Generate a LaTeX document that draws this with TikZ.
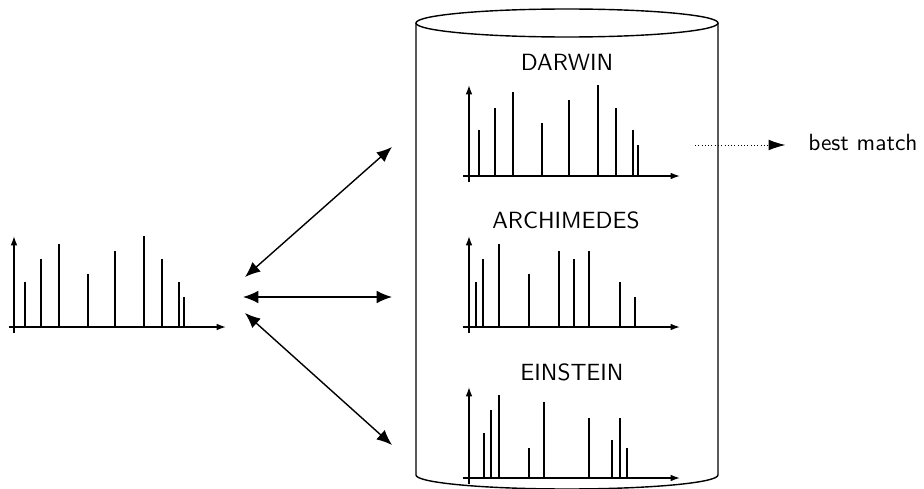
\documentclass[tikz,border=0pt]{standalone}
\usepackage{tikz}
\usetikzlibrary{arrows.meta}

\begin{document}
\begin{tikzpicture}[
    x=0.15mm, y=0.15mm,
    every node/.style={font=\sffamily},
    spaxis/.style={semithick, -{Latex[length=1.4mm,width=1mm]}},
    peak/.style={semithick},
    link/.style={semithick, {Latex[length=2.3mm,width=1.9mm]}-{Latex[length=2.3mm,width=1.9mm]}},
    match/.style={densely dotted, -{Latex[length=2.5mm,width=1.6mm]}}
]
\useasboundingbox (0,0) rectangle (924,488);

% Query spectrum
\begin{scope}[shift={(14,161)}]
\draw[spaxis] (-5,0) -- (212,0);
\draw[spaxis] (0,-6) -- (0,91);
\draw[peak] (11,0) -- (11,45) (27,0) -- (27,68) (45,0) -- (45,83) (74,0) -- (74,53)
    (101,0) -- (101,76) (130,0) -- (130,91) (148,0) -- (148,68) (165,0) -- (165,45) (170,0) -- (170,30);
\end{scope}

% Database
\draw[semithick] (567,465) ellipse [x radius=151, y radius=14];
\draw[semithick] (416,465) -- (416,13) arc [start angle=180, end angle=360, x radius=151, y radius=14] -- (718,465);

\node (darwin) at (567,426) {DARWIN};
\node (archimedes) at (566,268) {ARCHIMEDES};
\node (einstein) at (572,116) {EINSTEIN};

% Stored spectra
\begin{scope}[shift={(469,312)}]
\draw[spaxis] (-6,0) -- (211,0);
\draw[spaxis] (0,-6) -- (0,91);
\draw[peak] (10,0) -- (10,46) (26,0) -- (26,68) (44,0) -- (44,84) (73,0) -- (73,53)
    (100,0) -- (100,76) (129,0) -- (129,91) (147,0) -- (147,68) (164,0) -- (164,46) (169,0) -- (169,31);
\end{scope}

\begin{scope}[shift={(469,161)}]
\draw[spaxis] (-6,0) -- (211,0);
\draw[spaxis] (0,-6) -- (0,91);
\draw[peak] (7,0) -- (7,45) (14,0) -- (14,68) (30,0) -- (30,83) (60,0) -- (60,53)
    (90,0) -- (90,76) (105,0) -- (105,68) (120,0) -- (120,76) (151,0) -- (151,45) (166,0) -- (166,30);
\end{scope}

\begin{scope}[shift={(469,10)}]
\draw[spaxis] (-6,0) -- (211,0);
\draw[spaxis] (0,-6) -- (0,91);
\draw[peak] (15,0) -- (15,45) (22,0) -- (22,68) (30,0) -- (30,83) (60,0) -- (60,30)
    (75,0) -- (75,76) (120,0) -- (120,60) (143,0) -- (143,38) (151,0) -- (151,60) (158,0) -- (158,30);
\end{scope}

% Comparisons
\coordinate (qa) at (245,211);
\coordinate (qb) at (243,191);
\coordinate (qc) at (245,175);
\coordinate (da) at (392,341);
\coordinate (db) at (392,191);
\coordinate (dc) at (392,43);

\draw[link] (qa) -- (da);
\draw[link] (qb) -- (db);
\draw[link] (qc) -- (dc);

% Result
\node[anchor=west] (best) at (800,346) {best match};
\coordinate (matchstart) at (695,343);
\draw[match] (matchstart) -- ([xshift=-2.2mm]best.west |- matchstart);

\end{tikzpicture}
\end{document}
